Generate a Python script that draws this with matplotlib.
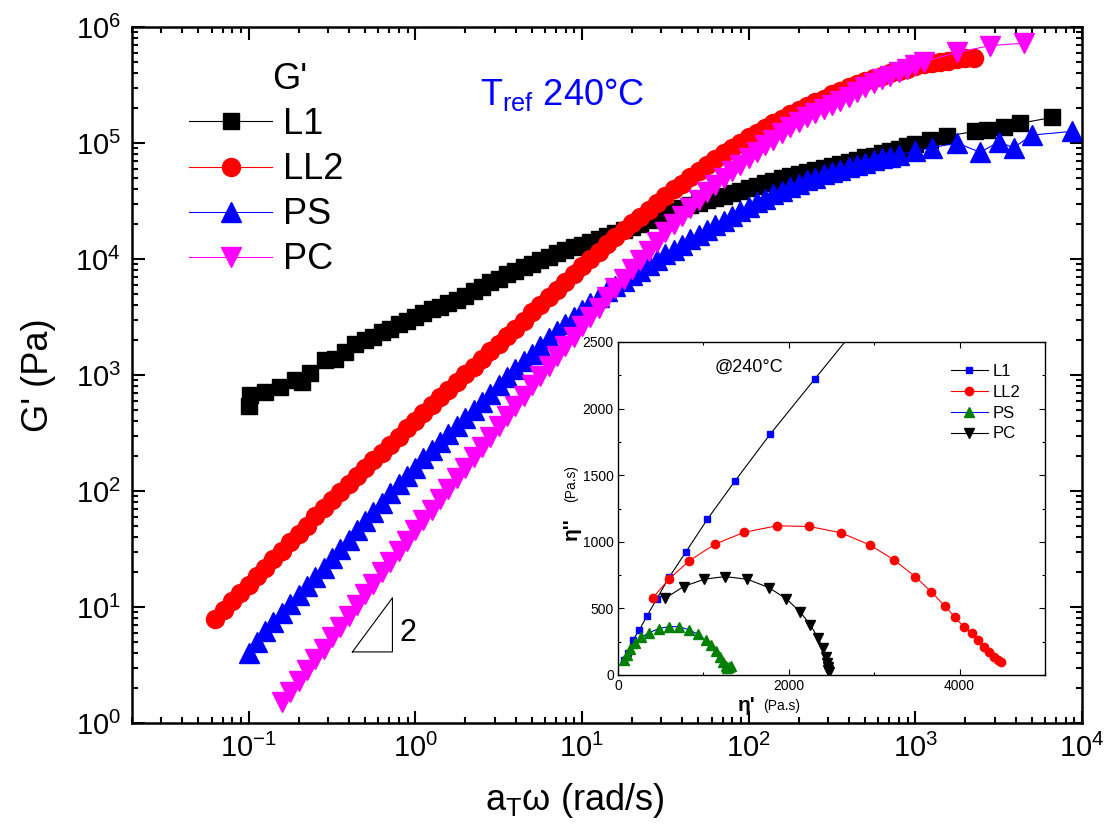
import numpy as np
import matplotlib
matplotlib.use('Agg')
import matplotlib.pyplot as plt
from matplotlib.ticker import LogLocator, NullFormatter, MultipleLocator

plt.rcParams['font.family'] = ['Liberation Sans', 'DejaVu Sans']
plt.rcParams['mathtext.fontset'] = 'custom'
plt.rcParams['mathtext.rm'] = 'Liberation Sans'
plt.rcParams['mathtext.it'] = 'Liberation Sans:italic'
plt.rcParams['mathtext.bf'] = 'Liberation Sans:bold'

# ---- main plot data: G' vs aT*omega ----
l1_w = [0.1, 0.102, 0.126, 0.155, 0.191, 0.209, 0.234, 0.288, 0.331, 0.38,
        0.437, 0.501, 0.562, 0.631, 0.708, 0.794, 0.891, 1.0, 1.12, 1.26,
        1.41, 1.58, 1.78, 2.0, 2.24, 2.51, 2.82, 3.16, 3.55, 3.98,
        4.47, 5.01, 5.62, 6.31, 7.08, 7.94, 8.91, 10, 11.2, 12.6,
        14.1, 15.8, 17.8, 20, 22.4, 25.1, 28.2, 31.6, 35.5, 39.8,
        44.7, 50.1, 56.2, 63.1, 70.8, 79.4, 89.1, 100, 112, 126,
        141, 158, 178, 200, 224, 251, 282, 316, 355, 398,
        447, 501, 562, 631, 708, 794, 891, 1000, 1230, 1550,
        2290, 2690, 3390, 4270, 6610]
l1_g = [537, 676, 708, 794, 912, 871, 1050, 1350, 1380, 1580,
        1860, 2000, 2140, 2340, 2510, 2750, 2950, 3160, 3430, 3670,
        3890, 4170, 4470, 4790, 5250, 5750, 6310, 6760, 7410, 7940,
        8510, 9120, 9770, 10500, 11200, 12000, 12600, 13300, 14100, 14900,
        15800, 16800, 17900, 19000, 20200, 21600, 23000, 24600, 26100, 27500,
        29200, 30500, 32000, 33500, 35100, 36700, 38500, 40700, 42700, 45200,
        47300, 50100, 51900, 54300, 56200, 58900, 61000, 63100, 66100, 69200,
        71600, 75000, 77600, 81300, 85100, 89100, 93300, 97700, 107000, 115000,
        126000, 129000, 138000, 148000, 166000]

ll2_w = [0.0631, 0.0708, 0.0794, 0.0891, 0.1, 0.112, 0.126, 0.141, 0.158, 0.178,
         0.2, 0.224, 0.251, 0.282, 0.316, 0.355, 0.398, 0.447, 0.501, 0.562,
         0.631, 0.708, 0.794, 0.891, 1.0, 1.12, 1.26, 1.41, 1.58, 1.78,
         2.0, 2.24, 2.51, 2.82, 3.16, 3.55, 3.98, 4.47, 5.01, 5.62,
         6.31, 7.08, 7.94, 8.91, 10, 11.2, 12.6, 14.1, 15.8, 17.8,
         20, 22.4, 25.1, 28.2, 31.6, 35.5, 39.8, 44.7, 50.1, 56.2,
         63.1, 70.8, 79.4, 89.1, 100, 112, 126, 141, 158, 178,
         200, 224, 251, 282, 316, 355, 398, 447, 501, 562,
         631, 708, 794, 891, 1000, 1120, 1260, 1410, 1580, 1780,
         2000, 2240]
ll2_g = [7.94, 9.33, 11.2, 13.2, 15.5, 18.6, 21.9, 25.7, 30.2, 36.3,
         42.7, 50.1, 60.3, 70.8, 83.2, 97.7, 115, 135, 158, 186,
         214, 251, 295, 347, 398, 468, 550, 646, 741, 871,
         1020, 1170, 1380, 1620, 1860, 2190, 2510, 2950, 3470, 3980,
         4680, 5370, 6310, 7410, 8710, 10000, 11500, 13500, 15500, 17800,
         20400, 23200, 26600, 30500, 34700, 39800, 44700, 51300, 57500, 64600,
         72400, 81300, 91200, 100000, 112000, 123000, 135000, 148000, 162000, 178000,
         191000, 209000, 224000, 240000, 263000, 282000, 302000, 324000, 339000, 363000,
         380000, 398000, 417000, 437000, 457000, 479000, 490000, 501000, 513000, 525000,
         537000, 537000]

ps_w = [0.1, 0.112, 0.126, 0.141, 0.158, 0.178, 0.2, 0.224, 0.251, 0.282,
        0.316, 0.355, 0.398, 0.447, 0.501, 0.562, 0.631, 0.708, 0.794, 0.891,
        1.0, 1.12, 1.26, 1.41, 1.58, 1.78, 2.0, 2.24, 2.51, 2.82,
        3.16, 3.55, 3.98, 4.47, 5.01, 5.62, 6.31, 7.08, 7.94, 8.91,
        10, 11.2, 12.6, 14.1, 15.8, 17.8, 20, 22.4, 25.1, 28.2,
        31.6, 35.5, 39.8, 44.7, 50.1, 56.2, 63.1, 70.8, 79.4, 89.1,
        100, 112, 126, 141, 158, 178, 200, 224, 251, 282,
        316, 355, 398, 447, 501, 562, 631, 708, 794, 1000,
        1260, 1780, 2450, 3160, 3890, 5010, 8710]
ps_g = [3.98, 5.01, 6.17, 7.41, 8.91, 10.7, 12.6, 15.1, 18.2, 21.9,
        26.3, 31.6, 38.0, 45.7, 55.0, 66.1, 79.4, 95.5, 115, 135,
        158, 191, 224, 263, 309, 363, 427, 501, 589, 692,
        813, 955, 1120, 1320, 1510, 1780, 2090, 2400, 2750, 3160,
        3630, 4170, 4680, 5250, 5890, 6460, 7240, 7940, 8910, 9770,
        11000, 12000, 13200, 14800, 16200, 17800, 19500, 21400, 23400, 25700,
        28200, 30900, 33100, 36300, 38900, 41700, 44700, 47900, 50100, 53700,
        56200, 58900, 61700, 64600, 67600, 70800, 74100, 75900, 79400, 85100,
        91200, 100000, 83200, 102000, 91200, 117000, 126000]

pc_w = [0.158, 0.178, 0.2, 0.224, 0.251, 0.282, 0.316, 0.355, 0.398, 0.447,
        0.501, 0.562, 0.631, 0.708, 0.794, 0.891, 1.0, 1.12, 1.26, 1.41,
        1.58, 1.78, 2.0, 2.24, 2.51, 2.82, 3.16, 3.55, 3.98, 4.47,
        5.01, 5.62, 6.31, 7.08, 7.94, 8.91, 10, 11.2, 12.6, 14.1,
        15.8, 17.8, 20, 22.4, 25.1, 28.2, 31.6, 35.5, 39.8, 44.7,
        50.1, 56.2, 63.1, 70.8, 79.4, 89.1, 100, 112, 126, 141,
        158, 178, 200, 224, 251, 282, 316, 355, 398, 447,
        501, 562, 631, 708, 794, 891, 1000, 1120, 1780, 2820,
        4470]
pc_g = [1.51, 1.86, 2.29, 2.88, 3.55, 4.37, 5.50, 6.76, 8.32, 10.5,
        12.9, 15.8, 20.0, 24.5, 30.2, 37.2, 45.7, 56.2, 69.2, 85.1,
        105, 129, 158, 195, 240, 295, 363, 447, 537, 661,
        813, 977, 1200, 1450, 1780, 2140, 2630, 3160, 3800, 4680,
        5620, 6760, 8130, 9770, 11700, 14100, 17000, 20000, 23400, 27500,
        32400, 38000, 43700, 50100, 57500, 64600, 74100, 83200, 95500, 107000,
        123000, 138000, 151000, 166000, 182000, 195000, 214000, 229000, 251000, 275000,
        302000, 331000, 355000, 380000, 407000, 437000, 468000, 501000, 603000, 692000,
        724000]

# slope-2 guide triangle
slope_w = [0.42, 0.73, 0.73, 0.42]
slope_g = [4.1, 12.0, 4.1, 4.1]

# ---- inset data: eta'' vs eta' (Cole-Cole) ----
in_l1_x = [66, 113, 175, 249, 339, 451, 599, 798, 1047, 1374, 1782, 2304, 2960]
in_l1_y = [113, 163, 263, 338, 443, 568, 734, 927, 1170, 1460, 1808, 2222, 2740]
in_ll2_x = [409, 599, 837, 1136, 1479, 1860, 2241, 2615, 2953, 3237, 3479,
            3669, 3825, 3946, 4047, 4140, 4214, 4284, 4346, 4401, 4447, 4486]
in_ll2_y = [581, 721, 859, 982, 1072, 1120, 1115, 1067, 975, 862, 739,
            624, 519, 433, 363, 316, 263, 213, 175, 138, 113, 100]
in_ps_x = [66, 105, 144, 198, 272, 366, 475, 595, 720, 833, 938, 1027, 1093,
           1148, 1195, 1233, 1261, 1280, 1300, 1323]
in_ps_y = [113, 150, 193, 238, 283, 318, 348, 363, 363, 338, 306, 263, 223,
           180, 138, 100, 68, 50, 58, 68]
in_pc_x = [553, 767, 1008, 1253, 1514, 1767, 1973, 2136, 2253, 2342, 2401,
           2436, 2451, 2459, 2463, 2471]
in_pc_y = [576, 664, 719, 739, 719, 656, 571, 471, 376, 278, 200,
           133, 88, 58, 38, 25]

W, H = 1107, 825
fig = plt.figure(figsize=(W / 100, H / 100), dpi=100)
ax = fig.add_axes([132 / W, (H - 723) / H, 950 / W, 696 / H])

ax.plot(l1_w, l1_g, '-s', color='black', ms=11.5, lw=0.8, label='L1')
ax.plot(ll2_w, ll2_g, '-o', color='red', ms=13, lw=0.8, label='LL2')
ax.plot(ps_w, ps_g, '-^', color='blue', ms=14, lw=0.8, label='PS')
ax.plot(pc_w, pc_g, '-v', color='magenta', ms=14, lw=0.8, label='PC')
ax.plot(slope_w, slope_g, color='black', lw=0.8)
ax.text(0.8, 6.0, '2', fontsize=22, va='center')

ax.set_xscale('log')
ax.set_yscale('log')
ax.set_xlim(0.02, 1e4)
ax.set_ylim(1, 1e6)
for a in (ax.xaxis, ax.yaxis):
    a.set_major_locator(LogLocator(base=10, numticks=20))
    a.set_minor_locator(LogLocator(base=10, subs=np.arange(2, 10), numticks=20))
    a.set_minor_formatter(NullFormatter())
ax.tick_params(which='both', direction='in', top=True, right=True, width=1.5)
ax.tick_params(which='major', length=9, labelsize=21, pad=8)
ax.tick_params(which='minor', length=4.5)
for s in ax.spines.values():
    s.set_linewidth(1.8)

ax.set_xlabel(r"a$_{\rm T}$ω (rad/s)", fontsize=26)
ax.xaxis.set_label_coords(0.466, -0.083)
ax.set_ylabel("G' (Pa)", fontsize=26, labelpad=14)

ax.legend(loc='upper left', bbox_to_anchor=(0.06, 0.885), frameon=False, fontsize=26,
          handlelength=2.3, handletextpad=0.3, labelspacing=0.28, borderpad=0,
          borderaxespad=0)
ax.text(0.148, 0.911, "G'", transform=ax.transAxes, fontsize=26, va='baseline')
ax.text(0.366, 0.888, r"T$_{\rm ref}$ 240°C", transform=ax.transAxes, color='blue',
        fontsize=26, va='baseline')

# ---- inset ----
axi = fig.add_axes([618 / W, (H - 675) / H, 427 / W, 333 / H])
axi.plot(in_l1_x, in_l1_y, '-s', color='black', mfc='blue', mec='blue', ms=5, lw=0.8, label='L1')
axi.plot(in_ll2_x, in_ll2_y, '-o', color='red', ms=6, lw=0.8, label='LL2')
axi.plot(in_ps_x, in_ps_y, '-^', color='blue', mfc='green', mec='green', ms=6.5, lw=0.8, label='PS')
axi.plot(in_pc_x, in_pc_y, '-v', color='black', ms=6.5, lw=0.8, label='PC')
axi.set_xlim(0, 5000)
axi.set_ylim(0, 2500)
axi.xaxis.set_major_locator(MultipleLocator(2000))
axi.xaxis.set_minor_locator(MultipleLocator(1000))
axi.yaxis.set_major_locator(MultipleLocator(500))
axi.yaxis.set_minor_locator(MultipleLocator(250))
axi.tick_params(which='both', direction='in', top=True, right=True, width=0.8, labelsize=10, pad=3)
axi.tick_params(which='major', length=4)
axi.tick_params(which='minor', length=2.5)
for s in axi.spines.values():
    s.set_linewidth(1.0)
axi.text(0.227, 0.91, '@240°C', transform=axi.transAxes, fontsize=13, va='baseline')
axi.legend(loc='upper left', bbox_to_anchor=(0.78, 0.934), frameon=False, fontsize=12,
           handlelength=2.2, handletextpad=0.3, labelspacing=0.35, borderpad=0,
           borderaxespad=0)
axi.text(0.302, -0.093, "η'", transform=axi.transAxes, fontsize=15, fontweight='bold',
         ha='center', va='center')
axi.text(0.384, -0.093, "(Pa.s)", transform=axi.transAxes, fontsize=10,
         ha='center', va='center')
axi.text(-0.11, 0.44, "η''", transform=axi.transAxes, fontsize=15, fontweight='bold',
         rotation=90, ha='center', va='center')
axi.text(-0.11, 0.575, "(Pa.s)", transform=axi.transAxes, fontsize=10,
         rotation=90, ha='center', va='center')

fig.savefig('out.png', dpi=100)
plt.close(fig)
